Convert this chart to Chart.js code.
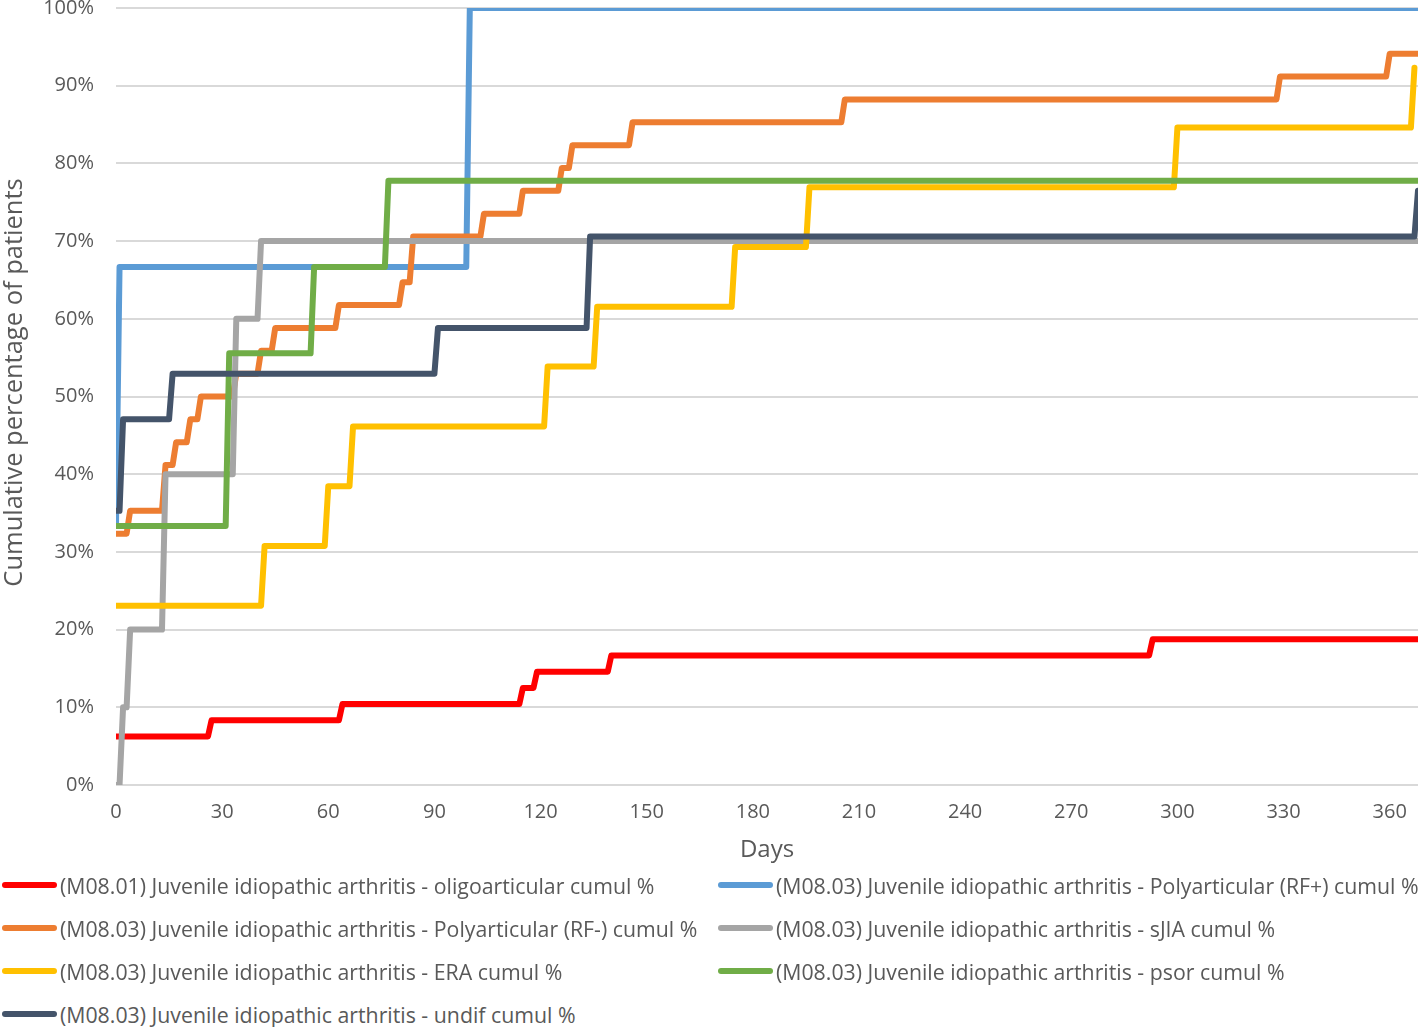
<!DOCTYPE html>
<html>
<head>
<meta charset="utf-8">
<script src="https://cdn.jsdelivr.net/npm/chart.js@4/dist/chart.umd.min.js"></script>
<style>
    html, body { margin: 0; padding: 0; background: #fff; }
    #wrap { position: relative; width: 1421px; height: 1027px; }
    #chart { position: absolute; left: 0; top: 0; }
    #legend { position: absolute; left: 0; top: 864px; width: 1421px;
              font-family: "Open Sans", sans-serif; font-size: 21.3px; color: #595959; }
    .lg-item { position: absolute; height: 43px; line-height: 43px; white-space: nowrap; }
    .lg-swatch { position: absolute; left: 2px; top: 18px; width: 55px; height: 6px; border-radius: 3px; }
    .lg-text { position: absolute; left: 60px; top: 0; }
</style>
</head>
<body>
<div id="wrap">
    <canvas id="chart" width="1421" height="870"></canvas>
    <div id="legend"></div>
</div>
<script>
    // Axis ticks
    const xTicks = [0, 30, 60, 90, 120, 150, 180, 210, 240, 270, 300, 330, 360];
    const yTicks = [0, 10, 20, 30, 40, 50, 60, 70, 80, 90, 100];
    const xMax = 368;
    const yTitle = 'Cumulative percentage of patients';

    // Series labels
    const seriesLabels = [
        '(M08.01) Juvenile idiopathic arthritis - oligoarticular cumul %',
        '(M08.03) Juvenile idiopathic arthritis - Polyarticular (RF+) cumul %',
        '(M08.03) Juvenile idiopathic arthritis - Polyarticular (RF-) cumul %',
        '(M08.03) Juvenile idiopathic arthritis - sJIA cumul %',
        '(M08.03) Juvenile idiopathic arthritis - ERA cumul %',
        '(M08.03) Juvenile idiopathic arthritis - psor cumul %',
        '(M08.03) Juvenile idiopathic arthritis - undif cumul %'
    ];
    const seriesColors = ['#FF0000', '#5B9BD5', '#ED7D31', '#A5A5A5', '#FFC000', '#70AD47', '#44546A'];

    // Step data: day where the cumulative value changes, and the new value (%)
    const oligoDays   = [0, 27, 64, 115, 119, 140, 293];
    const oligoVals   = [6.25, 8.33, 10.42, 12.5, 14.58, 16.67, 18.75];
    const rfPosDays   = [0, 1, 100];
    const rfPosVals   = [33.33, 66.67, 100];
    const rfNegDays   = [0, 4, 14, 17, 21, 24, 34, 41, 45, 63, 81, 84, 104, 115, 126, 129, 146, 206, 329, 360];
    const rfNegVals   = [32.35, 35.29, 41.18, 44.12, 47.06, 50, 52.94, 55.88, 58.82, 61.76, 64.71, 70.59, 73.53, 76.47, 79.41, 82.35, 85.29, 88.24, 91.18, 94.12];
    const sjiaDays    = [0, 2, 4, 14, 34, 41];
    const sjiaVals    = [0, 10, 20, 40, 60, 70];
    const eraDays     = [0, 42, 60, 67, 122, 136, 175, 196, 300, 367];
    const eraVals     = [23.08, 30.77, 38.46, 46.15, 53.85, 61.54, 69.23, 76.92, 84.62, 92.31];
    const psorDays    = [0, 32, 56, 77];
    const psorVals    = [33.33, 55.56, 66.67, 77.78];
    const undifDays   = [0, 2, 16, 91, 134, 368];
    const undifVals   = [35.29, 47.06, 52.94, 58.82, 70.59, 76.47];

    const seriesDays = [oligoDays, rfPosDays, rfNegDays, sjiaDays, eraDays, psorDays, undifDays];
    const seriesVals = [oligoVals, rfPosVals, rfNegVals, sjiaVals, eraVals, psorVals, undifVals];
    const seriesEnd  = [368, 368, 368, 368, 367, 368, 368];

    // Build step points: one day ramp at each change
    function buildSteps(days, vals, end) {
        const pts = [{ x: days[0], y: vals[0] }];
        for (let i = 1; i < days.length; i++) {
            pts.push({ x: days[i] - 1, y: vals[i - 1] });
            pts.push({ x: days[i], y: vals[i] });
        }
        const last = pts[pts.length - 1];
        if (last.x < end) {
            pts.push({ x: end, y: last.y });
        }
        return pts;
    }

    const textColor = '#595959';
    const fontFamily = '"Open Sans", sans-serif';

    const datasets = seriesLabels.map((label, i) => ({
        label: label,
        data: buildSteps(seriesDays[i], seriesVals[i], seriesEnd[i]),
        borderColor: seriesColors[i],
        backgroundColor: seriesColors[i],
        borderWidth: 6,
        borderCapStyle: 'round',
        borderJoinStyle: 'round',
        pointRadius: 0,
        tension: 0,
        fill: false,
        order: seriesLabels.length - i // later series on top, like the original
    }));

    // Y axis title sits a bit above the plot centre in the original
    const yTitlePlugin = {
        id: 'yTitle',
        afterDraw: (chart) => {
            const ctx = chart.ctx;
            ctx.save();
            ctx.translate(15, chart.chartArea.top + (chart.chartArea.bottom - chart.chartArea.top) / 2 - 14);
            ctx.rotate(-Math.PI / 2);
            ctx.font = '25.5px ' + fontFamily;
            ctx.fillStyle = textColor;
            ctx.textAlign = 'center';
            ctx.textBaseline = 'middle';
            ctx.fillText(yTitle, 0, 0);
            ctx.restore();
        }
    };

    const chart = new Chart(document.getElementById('chart'), {
        type: 'line',
        data: { datasets: datasets },
        plugins: [yTitlePlugin],
        options: {
            responsive: false,
            animation: false,
            layout: { padding: { left: 0, right: 3, top: 0, bottom: 0 } },
            plugins: {
                legend: { display: false },
                tooltip: { enabled: false }
            },
            scales: {
                x: {
                    type: 'linear',
                    min: 0,
                    max: xMax,
                    afterBuildTicks: (scale) => {
                        scale.ticks = xTicks.map(v => ({ value: v }));
                    },
                    afterFit: (scale) => {
                        scale.height = 85;
                        scale.paddingLeft = 0;
                        scale.paddingRight = 0;
                    },
                    grid: { display: false, drawTicks: false },
                    border: { display: false },
                    ticks: {
                        color: textColor,
                        padding: 15,
                        maxRotation: 0,
                        autoSkip: false,
                        font: { family: fontFamily, size: 20 }
                    },
                    title: {
                        display: true,
                        text: 'Days',
                        color: textColor,
                        padding: { top: 0, bottom: 5 },
                        font: { family: fontFamily, size: 24 }
                    }
                },
                y: {
                    min: 0,
                    max: 100,
                    afterBuildTicks: (scale) => {
                        scale.ticks = yTicks.map(v => ({ value: v }));
                    },
                    afterFit: (scale) => {
                        scale.width = 116;
                        scale.paddingTop = 8;
                        scale.paddingBottom = 0;
                    },
                    grid: { color: '#D9D9D9', lineWidth: 2, drawTicks: false },
                    border: { display: false },
                    ticks: {
                        color: textColor,
                        padding: 22,
                        font: { family: fontFamily, size: 20 },
                        callback: (v) => v + '%'
                    }
                }
            }
        }
    });

    // HTML legend, two columns like the original
    const legendEl = document.getElementById('legend');
    chart.data.datasets.forEach((ds, i) => {
        const item = document.createElement('div');
        item.className = 'lg-item';
        item.style.left = (i % 2 === 0 ? 0 : 716) + 'px';
        item.style.top = (Math.floor(i / 2) * 43) + 'px';
        item.innerHTML = '<span class="lg-swatch" style="background:' + ds.borderColor + '"></span>' +
                         '<span class="lg-text"></span>';
        item.querySelector('.lg-text').textContent = ds.label;
        legendEl.appendChild(item);
    });
</script>
</body>
</html>
